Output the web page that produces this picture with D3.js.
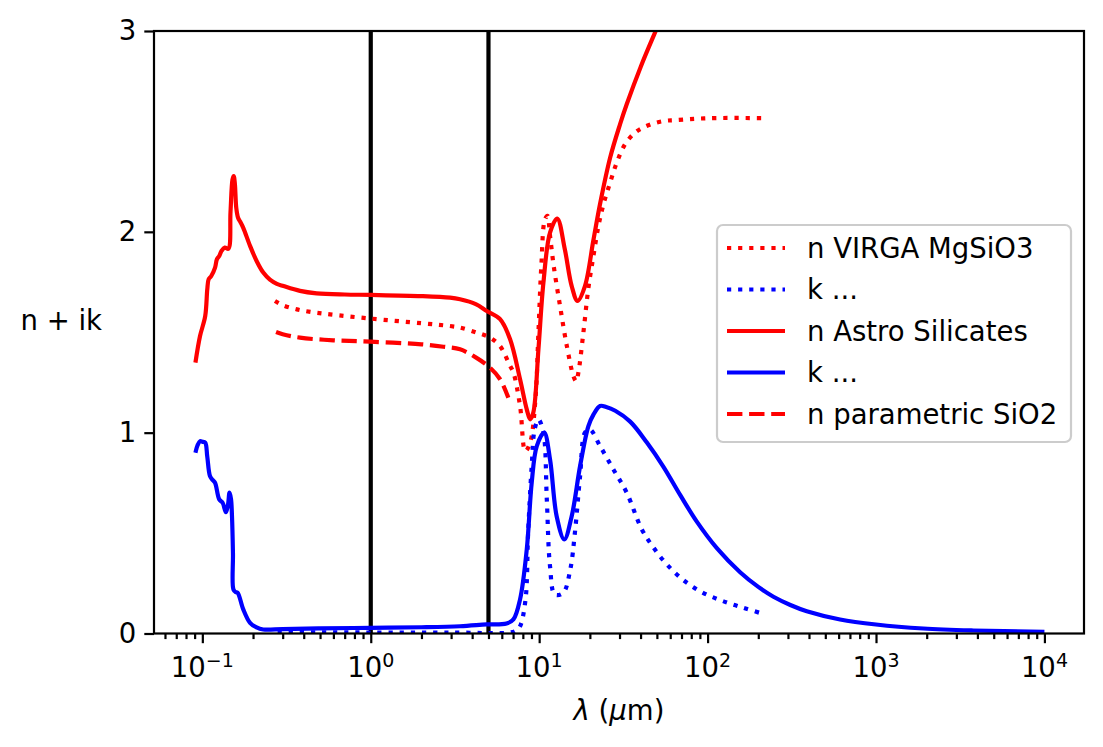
<!DOCTYPE html>
<html>
<head>
<meta charset="utf-8">
<script src="https://cdn.jsdelivr.net/npm/d3@7"></script>
<style>
  body { margin: 0; background: #fff; }
  svg { display: block; font-family: "DejaVu Sans", sans-serif; }
</style>
</head>
<body>
<div id="chart"></div>
<script>
// wavelength (um) and values
var astroWl = [0.091, 0.0969, 0.104, 0.107, 0.109, 0.113, 0.119, 0.122, 0.126, 0.130, 0.136, 0.1428,
    0.147, 0.151, 0.1535, 0.156, 0.159, 0.163, 0.168, 0.175, 0.192, 0.21, 0.23, 0.252, 0.277, 0.303, 0.38,
    0.477, 0.7, 1.0, 2.0, 2.96, 3.39, 4.2, 4.88, 5.86, 6.72, 7.7, 8.44, 8.84, 9.23, 9.9, 10.6, 11.6,
    12.8, 14.2, 15.6, 16.9, 18.7, 21.0, 23.0, 26.4, 30.2, 33.1, 40, 49.2, 60, 80];
var astroN = [1.349, 1.481, 1.58, 1.714, 1.764, 1.78, 1.822, 1.863, 1.88, 1.905, 1.922, 1.916,
    2.10, 2.26, 2.278, 2.24, 2.12, 2.07, 2.05, 2.02, 1.93, 1.855, 1.797, 1.762, 1.741, 1.730, 1.706,
    1.694, 1.688, 1.686, 1.680, 1.672, 1.664, 1.64, 1.606, 1.565, 1.465, 1.266, 1.116, 1.066, 1.10, 1.415, 1.747, 1.996,
    2.066, 1.913, 1.73, 1.656, 1.73, 1.96, 2.14, 2.37, 2.535, 2.635, 2.82, 3.0, 3.166, 3.4];

var astroKWl = [0.091, 0.094, 0.097, 0.100, 0.104, 0.107, 0.111, 0.115, 0.119, 0.126, 0.132, 0.138,
    0.142, 0.145, 0.148, 0.150, 0.152, 0.153, 0.158, 0.162, 0.175, 0.192, 0.21, 0.23, 0.3, 0.5, 1.0,
    2.0, 3.39, 4.88, 6.4, 7.03, 7.7, 8.44, 9.03, 9.68, 10.7, 11.6, 12.7, 14.1, 15.6, 17.5, 19.6, 21,
    23.0, 25, 28.3, 34.7, 43.5, 54.7, 68.7, 86.3, 113.5, 156, 200, 246, 310, 388, 612, 1000,
    1914, 3787, 10000];
var astroK = [0.90, 0.94, 0.958, 0.955, 0.95, 0.88, 0.784, 0.765, 0.751, 0.668, 0.651, 0.604,
    0.64, 0.701, 0.67, 0.584, 0.40, 0.219, 0.205, 0.203, 0.12, 0.053, 0.03, 0.02, 0.022, 0.026, 0.028,
    0.031, 0.036, 0.045, 0.05, 0.07, 0.17, 0.419, 0.751, 0.933, 1.0, 0.867, 0.584, 0.468, 0.584, 0.834, 1.033, 1.09,
    1.133, 1.128, 1.109, 1.055, 0.952, 0.83, 0.69, 0.557, 0.425, 0.305, 0.232, 0.183, 0.142, 0.111, 0.07, 0.045,
    0.025, 0.015, 0.008];

var virgaWl = [0.270, 0.30, 0.364, 0.45, 0.573, 1.0, 2.0, 2.96, 3.39, 4.2, 5.1, 5.86, 6.72, 7.03, 7.7,
    8.27, 8.84, 9.5, 9.9, 10.3, 10.8, 11.2, 11.6, 12.2, 13.3, 14.6, 16.0, 16.6, 17.1, 18.3, 19.6, 21.0,
    22.5, 24.1, 26.4, 28.9, 32.4, 37.1, 41.6, 47.8, 56, 64, 103.5, 219];
var virgaN = [1.656, 1.635, 1.614, 1.60, 1.589, 1.568, 1.545, 1.531, 1.523, 1.50, 1.473, 1.431, 1.332, 1.30, 1.133,
    0.908, 0.95, 1.166, 1.5, 1.83, 2.06, 2.08, 1.98, 1.83, 1.631, 1.431, 1.28, 1.256, 1.3, 1.498, 1.72, 1.88,
    2.03, 2.138, 2.246, 2.345, 2.437, 2.494, 2.52, 2.54, 2.553, 2.556, 2.566, 2.566];

var virgaKWl = [0.28, 0.5, 1.0, 3.0, 6.72, 7.3, 7.7, 8.3, 8.6, 9.03, 9.4, 9.9, 10.6, 11.1, 11.6, 12.4,
    13.9, 15.3, 16.3, 17.5, 18.7, 20.0, 23.0, 27.6, 33.1, 40.6, 47.8, 57.3, 71.8, 92.3, 121, 163, 219];
var virgaK = [0.007, 0.006, 0.005, 0.005, 0.005, 0.015, 0.036, 0.17, 0.502, 0.834, 1.016, 1.066, 1.0, 0.668, 0.335, 0.194,
    0.203, 0.319, 0.502, 0.784, 1.0, 1.016, 0.933, 0.817, 0.701, 0.52, 0.427, 0.344, 0.266, 0.206, 0.164, 0.128, 0.095];

var sio2Wl = [0.274, 0.30, 0.380, 0.6, 1.0, 2.0, 2.70, 3.39, 4.2, 5.1, 5.86, 6.56];
var sio2N = [1.501, 1.49, 1.473, 1.46, 1.453, 1.44, 1.428, 1.415, 1.375, 1.324, 1.266, 1.174];

var markerLines = [1, 5];
var yTicks = [0, 1, 2, 3];
var xMajor = [-1, 0, 1, 2, 3, 4];   // exponents

function init() {
    var w = 1103, h = 747;
    var left = 154, right = 1084, top = 31, bottom = 633.5;
    var lw = 4.2;
    var fs = "27.5px";

    var svg = d3.select("#chart").append("svg")
        .attr("width", w).attr("height", h);

    var xScale = d3.scaleLog()
        .domain([Math.pow(10, -1.287), Math.pow(10, 4.235)])
        .range([left, right]);
    var yScale = d3.scaleLinear()
        .domain([0, 3])
        .range([bottom, top]);

    svg.append("clipPath").attr("id", "plotclip")
        .append("rect")
        .attr("x", left).attr("y", top)
        .attr("width", right - left).attr("height", bottom - top);

    var plot = svg.append("g").attr("clip-path", "url(#plotclip)");

    // vertical markers
    plot.selectAll("line.vm")
        .data(markerLines)
        .enter()
        .append("line")
        .attr("x1", function(d){ return xScale(d); })
        .attr("x2", function(d){ return xScale(d); })
        .attr("y1", top).attr("y2", bottom)
        .attr("stroke", "black")
        .attr("stroke-width", lw);

    var series = [
        {label: "n VIRGA MgSiO3", wl: virgaWl, v: virgaN, color: "red", dash: "4.2,6.9"},
        {label: "k ...", wl: virgaKWl, v: virgaK, color: "blue", dash: "4.2,6.9"},
        {label: "n Astro Silicates", wl: astroWl, v: astroN, color: "red", dash: null},
        {label: "k ...", wl: astroKWl, v: astroK, color: "blue", dash: null},
        {label: "n parametric SiO2", wl: sio2Wl, v: sio2N, color: "red", dash: "15.4,6.7"}
    ];

    var line = d3.line()
        .x(function(d){ return xScale(d[0]); })
        .y(function(d){ return yScale(d[1]); })
        .curve(d3.curveCatmullRom.alpha(0.5));

    series.forEach(function(s){
        var pts = s.wl.map(function(l, i){ return [l, s.v[i]]; });
        plot.append("path")
            .datum(pts)
            .attr("d", line)
            .attr("fill", "none")
            .attr("stroke", s.color)
            .attr("stroke-width", lw)
            .attr("stroke-dasharray", s.dash)
            .attr("stroke-linejoin", "round");
    });

    // axes
    var minor = [];
    for (var e = -2; e <= 4; e++) {
        for (var m = 2; m <= 9; m++) {
            var v = m * Math.pow(10, e);
            if (v >= xScale.domain()[0] && v <= xScale.domain()[1]) minor.push(v);
        }
    }
    var majorVals = xMajor.map(function(e){ return Math.pow(10, e); });

    var gx = svg.append("g").attr("transform", "translate(0," + bottom + ")");
    gx.call(d3.axisBottom(xScale).tickValues(minor).tickSize(5.6).tickFormat(""));
    var gx2 = svg.append("g").attr("transform", "translate(0," + bottom + ")");
    gx2.call(d3.axisBottom(xScale).tickValues(majorVals).tickSize(9.7).tickFormat(""));
    [gx, gx2].forEach(function(g){
        g.select(".domain").remove();
        g.selectAll(".tick line").attr("stroke", "black").attr("stroke-width", 2.2);
    });

    var xl = svg.append("g");
    xMajor.forEach(function(e){
        var t = xl.append("text")
            .attr("x", xScale(Math.pow(10, e)))
            .attr("y", 677)
            .attr("text-anchor", "middle")
            .attr("font-size", fs)
            .attr("fill", "black");
        t.append("tspan").text("10");
        t.append("tspan")
            .attr("dy", -10)
            .attr("font-size", "19px")
            .text(e < 0 ? "\u2212" + (-e) : String(e));
    });

    var gy = svg.append("g").attr("transform", "translate(" + left + ",0)");
    gy.call(d3.axisLeft(yScale).tickValues(yTicks).tickSize(9.7).tickPadding(8).tickFormat(d3.format("d")));
    gy.select(".domain").remove();
    gy.selectAll(".tick line").attr("stroke", "black").attr("stroke-width", 2.2);
    gy.selectAll(".tick text")
        .attr("font-size", fs)
        .attr("font-family", "DejaVu Sans")
        .attr("fill", "black");

    // frame
    svg.append("rect")
        .attr("x", left).attr("y", top)
        .attr("width", right - left).attr("height", bottom - top)
        .attr("fill", "none")
        .attr("stroke", "black")
        .attr("stroke-width", 2.2);

    // axis labels
    var xlab = svg.append("text")
        .attr("x", (left + right) / 2)
        .attr("y", 720)
        .attr("text-anchor", "middle")
        .attr("font-size", fs);
    xlab.append("tspan").attr("font-style", "italic").text("\u03bb");
    xlab.append("tspan").text(" (");
    xlab.append("tspan").attr("font-style", "italic").text("\u03bc");
    xlab.append("tspan").text("m)");

    svg.append("text")
        .attr("x", 102)
        .attr("y", 330)
        .attr("text-anchor", "end")
        .attr("font-size", fs)
        .text("n + ik");

    // legend
    var lg = svg.append("g");
    lg.append("rect")
        .attr("x", 717).attr("y", 225)
        .attr("width", 354).attr("height", 217)
        .attr("rx", 6)
        .attr("fill", "white").attr("fill-opacity", 0.8)
        .attr("stroke", "#cccccc")
        .attr("stroke-width", 2.2);

    series.forEach(function(s, i){
        var yy = 248 + i * 41.5;
        lg.append("line")
            .attr("x1", 727).attr("x2", 785)
            .attr("y1", yy).attr("y2", yy)
            .attr("stroke", s.color)
            .attr("stroke-width", lw)
            .attr("stroke-dasharray", s.dash);
        lg.append("text")
            .attr("x", 807)
            .attr("y", yy)
            .attr("dy", "0.35em")
            .attr("font-size", fs)
            .text(s.label);
    });
}

window.onload = init;
</script>
</body>
</html>
